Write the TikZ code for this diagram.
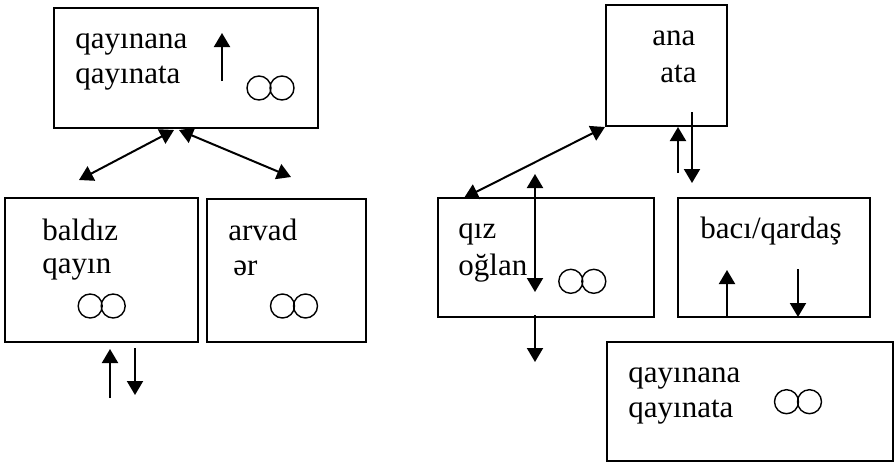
\documentclass[tikz,border=0pt]{standalone}
\usepackage{fontspec}
\setmainfont{Liberation Serif}
\usetikzlibrary{arrows.meta}

\tikzset{
  box/.style={draw, line width=1pt, inner sep=0pt},
  word/.style={anchor=base west, inner sep=0pt, font=\fontsize{15.5}{18}\selectfont},
  one/.style={line width=1pt, -{Triangle[length=7pt,width=8pt]}},
  two/.style={line width=1pt, {Triangle[length=7pt,width=8pt]}-{Triangle[length=7pt,width=8pt]}},
  rings/.pic={\draw[line width=0.7pt] (-11.5,0) circle (6pt) (11.5,0) circle (6pt);}
}

\begin{document}
\begin{tikzpicture}[x=0.5pt, y=-0.5pt]
\useasboundingbox (0,0) rectangle (895,462);

% left family
\node[box, minimum width=132pt, minimum height=60pt] (qayinlar) at (186,68) {};
\node[box, minimum width=96.5pt, minimum height=72pt] (baldiz) at (101.5,270) {};
\node[box, minimum width=79.5pt, minimum height=71.5pt] (arvad) at (286.5,270.5) {};

\node[word] (qa1) at (75,48) {qayınana};
\node[word] (qa2) at (75,83) {qayınata};
\node[word] (bq1) at (42,240) {baldız};
\node[word] (bq2) at (42,273) {qayın};
\node[word] (ae1) at (228,240) {arvad};
\node[word] (ae2) at (233,275) {ər};

\pic at (270.5,88) {rings};
\pic at (101.7,306) {rings};
\pic at (294,306) {rings};

\coordinate (qu0) at (222,81);
\coordinate (qu1) at (222,33);
\coordinate (kl) at (174,130);
\coordinate (kr) at (179,130);
\coordinate (ll) at (79,180);
\coordinate (lr) at (291,177);
\coordinate (bu0) at (110,398);
\coordinate (bu1) at (110,349);
\coordinate (bd0) at (135,348);
\coordinate (bd1) at (135,395);

\draw[one] (qu0) -- (qu1);
\draw[two] (ll) -- (kl);
\draw[two] (kr) -- (lr);
\draw[one] (bu0) -- (bu1);
\draw[one] (bd0) -- (bd1);

% right family
\node[box, minimum width=60.5pt, minimum height=60.5pt] (valideyn) at (666.5,65.5) {};
\node[box, minimum width=108pt, minimum height=59.5pt] (ovlad) at (546,257.5) {};
\node[box, minimum width=96pt, minimum height=59.5pt] (baci) at (774,257.5) {};
\node[box, minimum width=143pt, minimum height=59.5pt] (qayin2) at (750,401.5) {};

\node[word] (aa1) at (652,45) {ana};
\node[word] (aa2) at (660,82) {ata};
\node[word] (qo1) at (458,238) {qız};
\node[word] (qo2) at (458,275) {oğlan};
\node[word] (bqa) at (700,238) {bacı/qardaş};
\node[word] (qb1) at (628,382) {qayınana};
\node[word] (qb2) at (628,417) {qayınata};

\pic at (582.3,281.3) {rings};
\pic at (798,401.7) {rings};

\coordinate (vu0) at (678,173);
\coordinate (vd0) at (692,112);
\coordinate (vd1) at (692,183);
\coordinate (ot) at (464,198);
\coordinate (o0) at (535,174);
\coordinate (o1) at (535,292);
\coordinate (o2) at (535,315);
\coordinate (o3) at (535,362);
\coordinate (cu0) at (727,317);
\coordinate (cu1) at (727,270);
\coordinate (cd0) at (798,269);
\coordinate (cd1) at (798,317);

\draw[one] (vu0) -- (vu0 |- valideyn.south);
\draw[one] (vd0) -- (vd1);
\draw[two] (ot) -- (valideyn.south west);
\draw[two] (o0) -- (o1);
\draw[one] (o2) -- (o3);
\draw[one] (cu0) -- (cu1);
\draw[one] (cd0) -- (cd1);
\end{tikzpicture}
\end{document}
